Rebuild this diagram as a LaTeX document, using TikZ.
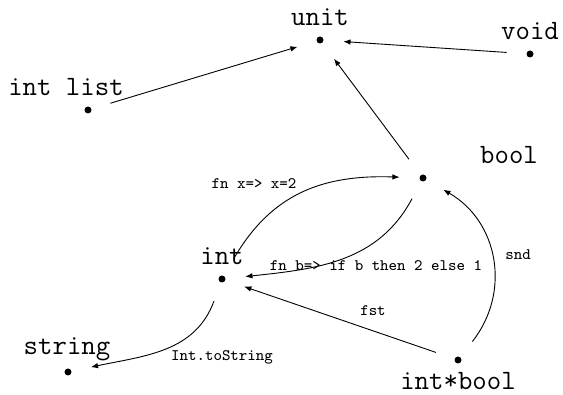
\documentclass[tikz,border=0pt]{standalone}
\usetikzlibrary{arrows.meta}
\begin{document}
\begin{tikzpicture}[x=0.5pt,y=-0.5pt,
  typept/.style={circle,inner sep=0pt,minimum size=23pt},
  typename/.style={anchor=base,font=\fontsize{14}{16}\selectfont\ttfamily,inner sep=0pt},
  fnlabel/.style={anchor=base,font=\footnotesize\ttfamily,inner sep=0pt},
  fnarrow/.style={-{Latex[length=3.6pt,width=2.8pt]},line width=0.45pt}]
\useasboundingbox (0,0) rectangle (563,395);

% type points
\node[typept] (unit)    at (320,40)  {};
\node[typept] (void)    at (530,54)  {};
\node[typept] (intlist) at (88,110)  {};
\node[typept] (bool)    at (423,178) {};
\node[typept] (int)     at (222,279) {};
\node[typept] (string)  at (68,372)  {};
\node[typept] (pair)    at (458,360) {};
\foreach \p in {unit,void,intlist,bool,int,string,pair}
  \fill (\p.center) circle[radius=1.75pt];

% type names
\node[typename] (tunit)    at (320,26)  {unit};
\node[typename] (tvoid)    at (530,40)  {void};
\node[typename] (tintlist) at (66,96)   {int list};
\node[typename] (tbool)    at (509,164) {bool};
\node[typename] (tint)     at (222,265) {int};
\node[typename] (tstring)  at (67,355)  {string};
\node[typename] (tpair)    at (458,390) {int*bool};

% functions between types
\draw[fnarrow] (intlist) -- (unit);
\draw[fnarrow] (void) -- (unit);
\draw[fnarrow] (bool) -- (unit);
\draw[fnarrow] (int) to[out=60,in=178,looseness=1.05] (bool);
\draw[fnarrow] (bool) to[out=-118,in=6] (int);
\draw[fnarrow] (int) to[out=-110,in=12] (string);
\draw[fnarrow] (pair) -- (int);
\draw[fnarrow] (pair) to[out=52,in=-30,looseness=1.05] (bool);

% function names
\node[fnlabel] (lfnx)  at (254,189) {fn x=> x=2};
\node[fnlabel] (lfnb)  at (376,271) {fn b=> if b then 2 else 1};
\node[fnlabel] (lstr)  at (222,361) {Int.toString};
\node[fnlabel] (lfst)  at (373,316) {fst};
\node[fnlabel] (lsnd)  at (518,260) {snd};
\end{tikzpicture}
\end{document}
